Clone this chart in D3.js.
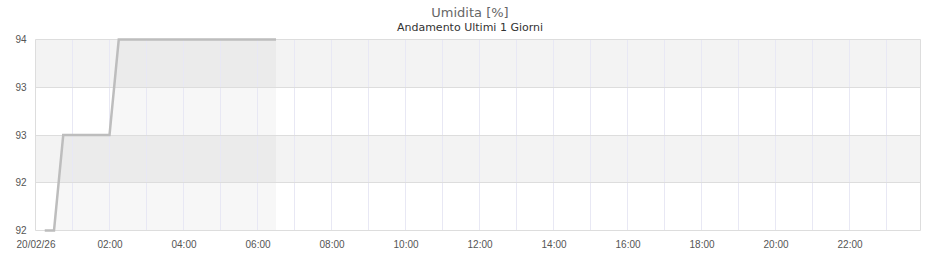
<!DOCTYPE html>
<html>
<head>
<meta charset="utf-8">
<script src="https://cdn.jsdelivr.net/npm/d3@7"></script>
<style>
    body { margin: 0; background: #fff; }
    svg { font-family: "DejaVu Sans", sans-serif; display: block; }
    .tick text { fill: #555; font-size: 10px; }
</style>
</head>
<body>
<div id="chart"></div>
<script>
// Dati
const times = ["2026-02-20 00:15", "2026-02-20 00:30", "2026-02-20 00:45", "2026-02-20 02:00", "2026-02-20 02:15", "2026-02-20 06:30"];
const values = [92, 92, 93, 93, 94, 94];
const yTicks = [92, 92.5, 93, 93.5, 94];
const xDomain = ["2026-02-20 00:00", "2026-02-20 23:55"];

const parse = d3.timeParse("%Y-%m-%d %H:%M");
const data = times.map((t, i) => ({ date: parse(t), value: values[i] }));

const W = 940, H = 260;
const margin = { top: 39.5, right: 19.5, bottom: 29.5, left: 35.5 };
const width = W - margin.left - margin.right;
const height = H - margin.top - margin.bottom;

const svg = d3.select("#chart").append("svg")
    .attr("width", W)
    .attr("height", H);

// Titolo
svg.append("text")
    .attr("x", 470).attr("y", 16.5)
    .attr("text-anchor", "middle")
    .style("font-size", "13px")
    .style("fill", "#666")
    .text("Umidita [%]");

svg.append("text")
    .attr("x", 470).attr("y", 30.5)
    .attr("text-anchor", "middle")
    .style("font-size", "11px")
    .style("fill", "#333")
    .text("Andamento Ultimi 1 Giorni");

const g = svg.append("g")
    .attr("transform", `translate(${margin.left},${margin.top})`);

const x = d3.scaleTime()
    .domain(xDomain.map(parse))
    .range([0, width]);

const y = d3.scaleLinear()
    .domain([yTicks[0], yTicks[yTicks.length - 1]])
    .range([height, 0]);

// Bande alternate
const bands = d3.pairs(yTicks).map((p, i) => ({ lo: p[0], hi: p[1], i }));
g.selectAll(".band")
    .data(bands.filter(d => d.i % 2 === 1))
    .enter().append("rect")
    .attr("class", "band")
    .attr("x", 0)
    .attr("y", d => y(d.hi))
    .attr("width", width)
    .attr("height", d => y(d.lo) - y(d.hi))
    .attr("fill", "#f3f3f3");

// Area sotto la linea
const area = d3.area()
    .x(d => x(d.date))
    .y0(height)
    .y1(d => y(d.value));

g.append("path")
    .datum(data)
    .attr("d", area)
    .attr("fill", "rgba(0,0,0,0.03)");

// Griglia verticale (ogni ora)
g.selectAll(".vgrid")
    .data(x.ticks(d3.timeHour.every(1)).filter(d => x(d) > 0))
    .enter().append("line")
    .attr("class", "vgrid")
    .attr("x1", d => Math.round(x(d)))
    .attr("x2", d => Math.round(x(d)))
    .attr("y1", 0)
    .attr("y2", height)
    .attr("stroke", "#e8e8f4")
    .attr("stroke-width", 1);

// Griglia orizzontale
g.selectAll(".hgrid")
    .data(yTicks)
    .enter().append("line")
    .attr("class", "hgrid")
    .attr("x1", 0)
    .attr("x2", width)
    .attr("y1", d => Math.round(y(d)))
    .attr("y2", d => Math.round(y(d)))
    .attr("stroke", "#dddddd");

// Bordo
g.append("line")
    .attr("x1", 0).attr("x2", 0)
    .attr("y1", 0).attr("y2", height)
    .attr("stroke", "#dddddd");
g.append("line")
    .attr("x1", width).attr("x2", width)
    .attr("y1", 0).attr("y2", height)
    .attr("stroke", "#dddddd");

// Linea dati
const line = d3.line()
    .x(d => x(d.date))
    .y(d => y(d.value));

g.append("path")
    .datum(data)
    .attr("d", line)
    .attr("fill", "none")
    .attr("stroke", "#bdbdbd")
    .attr("stroke-width", 2.5);

// Assi
const fmtDay = d3.timeFormat("%d/%m/%y");
const fmtHour = d3.timeFormat("%H:%M");

g.append("g")
    .attr("transform", `translate(0,${height})`)
    .call(d3.axisBottom(x)
        .ticks(d3.timeHour.every(2))
        .tickSize(0)
        .tickPadding(10)
        .tickFormat(d => d.getHours() === 0 ? fmtDay(d) : fmtHour(d)))
    .call(a => a.select(".domain").remove());

g.append("g")
    .call(d3.axisLeft(y)
        .tickValues(yTicks)
        .tickSize(0)
        .tickPadding(9)
        .tickFormat(d => Math.floor(d)))
    .call(a => a.select(".domain").remove());
</script>
</body>
</html>
